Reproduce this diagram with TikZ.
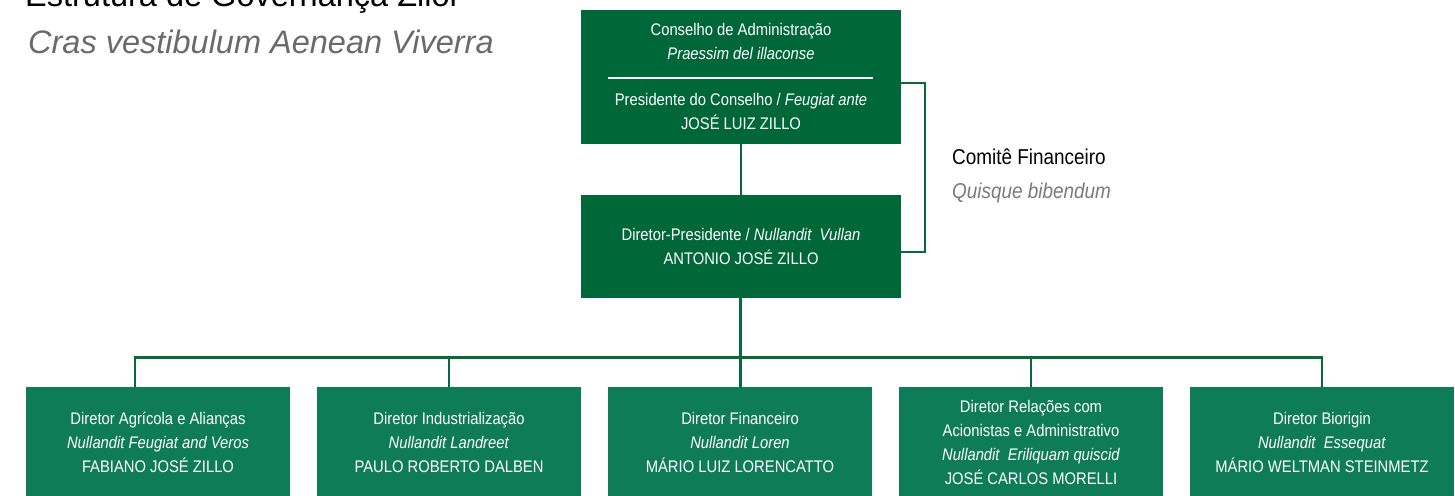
\documentclass[tikz,border=0pt]{standalone}
\usepackage{fontspec}
\setmainfont{Liberation Sans}
\newfontfamily\narrowfont[FakeStretch=0.88]{Liberation Sans}
\definecolor{topgreen}{HTML}{006838}
\definecolor{boxgreen}{HTML}{0E7C56}
\definecolor{linegreen}{HTML}{086A3B}
\definecolor{titlegray}{HTML}{6A6A6A}
\definecolor{subgray}{HTML}{7A7A7A}
\tikzset{
  darkbox/.style={fill=topgreen, draw=none, minimum width=320pt, inner sep=0pt},
  lightbox/.style={fill=boxgreen, draw=none, minimum width=264pt, minimum height=111pt, inner sep=0pt,
    text=white, align=center, font=\narrowfont\fontsize{16.8}{24}\selectfont},
  boxtext/.style={text=white, align=center, inner sep=0pt, font=\narrowfont\fontsize{16.8}{24}\selectfont},
  conn/.style={draw=linegreen, line width=2.4pt},
  titletext/.style={inner sep=0pt, anchor=base west, font=\fontsize{32.5}{36}\selectfont},
  comtext/.style={inner sep=0pt, anchor=base west, font=\narrowfont\fontsize{21.5}{24}\selectfont}
}
\begin{document}
\begin{tikzpicture}[x=1pt, y=-1pt]
\useasboundingbox (0,0) rectangle (1455,495);
\clip (0,0) rectangle (1455,495);

% title
\node[titletext, text=black] (title) at (25,7) {Estrutura de Governança Zilor};
\node[titletext, text=titlegray] (subtitle) at (28,53) {\itshape Cras vestibulum Aenean Viverra};

% top box
\node[darkbox, minimum height=134pt] (top) at (741,77) {};
\node[boxtext] (toptxt1) at (741,41.8) {Conselho de Administração\\\itshape Praessim del illaconse};
\draw[white, line width=2.5pt] (608,78) -- (873,78);
\node[boxtext] (toptxt2) at (741,111.5) {Presidente do Conselho / \textit{Feugiat ante}\\JOSÉ LUIZ ZILLO};

% middle box
\node[darkbox, minimum height=103pt, boxtext] (mid) at (741,246.5) {Diretor-Presidente / \textit{Nullandit\ \ Vullan}\\ANTONIO JOSÉ ZILLO};

% committee
\node[comtext, text=black] (com1) at (952,164.5) {Comitê Financeiro};
\node[comtext, text=subgray] (com2) at (952,198) {\itshape Quisque bibendum};

% bottom boxes
\node[lightbox] (b1) at (158,442.5) {Diretor Agrícola e Alianças\\\textit{Nullandit Feugiat and Veros}\\FABIANO JOSÉ ZILLO};
\node[lightbox] (b2) at (449,442.5) {Diretor Industrialização\\\textit{Nullandit Landreet}\\PAULO ROBERTO DALBEN};
\node[lightbox] (b3) at (740,442.5) {Diretor Financeiro\\\textit{Nullandit Loren}\\MÁRIO LUIZ LORENCATTO};
\node[lightbox] (b4) at (1031,442.5) {Diretor Relações com\\Acionistas e Administrativo\\\textit{Nullandit\ \ Eriliquam quiscid}\\JOSÉ CARLOS MORELLI};
\node[lightbox] (b5) at (1322,442.5) {Diretor Biorigin\\\textit{Nullandit\ \ Essequat}\\MÁRIO WELTMAN STEINMETZ};

% connectors
\draw[conn] (top.south) -- (mid.north);
\coordinate (cA) at (925,83);
\coordinate (cB) at (925,252);
\draw[conn] (top.east |- cA) -- (cA) -- (cB) -- (mid.east |- cB);

\coordinate (bus) at (740.5,357.5);
\coordinate (j1) at (135,357.5);
\draw[conn] (mid.south -| bus) -- (bus);
\draw[conn] (j1 |- b1.north) -- (j1) -- (b5.north |- j1) -- (b5.north);
\draw[conn] (b2.north) -- (b2.north |- j1);
\draw[conn] (b3.north -| bus) -- (bus);
\draw[conn] (b4.north) -- (b4.north |- j1);
\end{tikzpicture}
\end{document}
